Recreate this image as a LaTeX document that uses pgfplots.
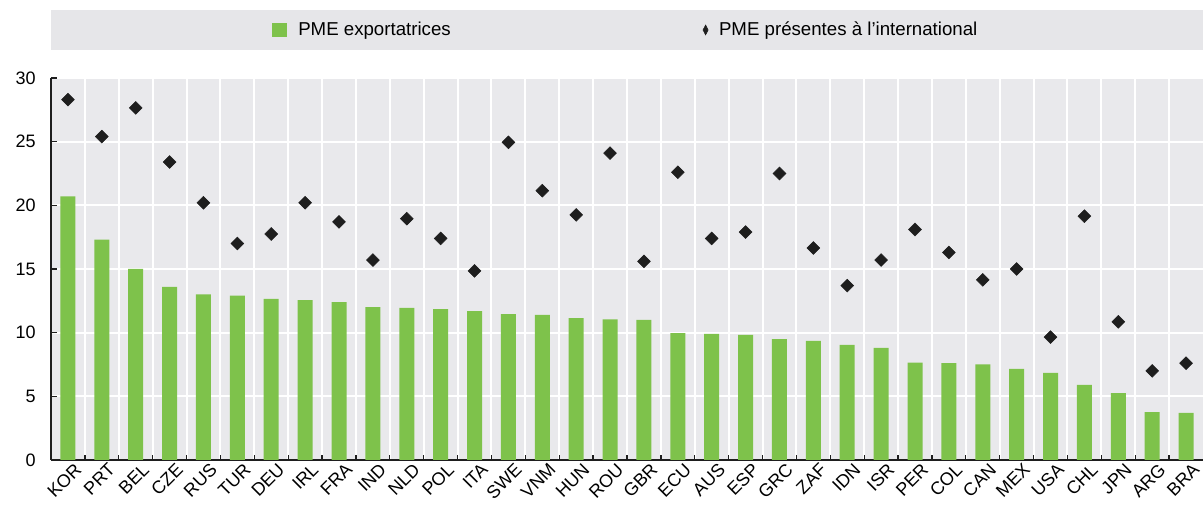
\documentclass[border=0pt]{standalone}
\usepackage{pgfplots}
\pgfplotsset{compat=1.18}
\usepackage{fontspec}
\setmainfont{Liberation Sans}
\definecolor{barg}{HTML}{7EC24B}
\definecolor{bgg}{HTML}{E9E9EC}
\definecolor{lgg}{HTML}{E6E6E9}
\definecolor{dk}{HTML}{1E1E1E}
\begin{document}
\begin{tikzpicture}[x=1pt,y=1pt]
\fill[lgg] (0,307.5) rectangle (864,337.5);
\begin{axis}[
  at={(0,0)}, anchor=south west,
  scale only axis, width=864pt, height=286.5pt,
  xmin=-0.5, xmax=33.5, ymin=0, ymax=30,
  ytick={0,5,...,30},
  xtick={0,...,33},
  xticklabels={KOR,PRT,BEL,CZE,RUS,TUR,DEU,IRL,FRA,IND,NLD,POL,ITA,SWE,VNM,HUN,ROU,GBR,ECU,AUS,ESP,GRC,ZAF,IDN,ISR,PER,COL,CAN,MEX,USA,CHL,JPN,ARG,BRA},
  minor x tick num=1,
  xminorgrids=true, ymajorgrids=true, xmajorgrids=false,
  grid style={white, line width=1.5pt},
  minor grid style={white, line width=1.5pt},
  axis background/.style={fill=bgg},
  axis lines=left, axis line style={-, dk, line width=1.3pt},
  tick align=inside,
  major x tick style={draw=none},
  major tick length=4.5pt, minor tick length=4pt,
  tick style={dk, line width=1pt},
  /pgf/number format/assume math mode=true,
  xticklabel style={rotate=45, anchor=north east, font=\fontsize{13.5}{14}\selectfont, inner sep=1pt, xshift=3pt, yshift=-3pt},
  yticklabel style={font=\fontsize{13.5}{14}\selectfont, xshift=-8pt},
  legend style={at={(0.499,1)}, anchor=center, yshift=36pt, draw=none, fill=none,
    font=\fontsize{14}{16}\selectfont, legend columns=2,
    /tikz/every even column/.append style={column sep=187pt}},
  clip=false,
]
\addplot[ybar, bar width=11.25pt, fill=barg, draw=none,
  legend image code/.code={\fill[barg] (0pt,-5.6pt) rectangle (11.25pt,5.6pt); \path[draw=none,fill=none] (0pt,0pt) -- (18pt,0pt);}]
coordinates {
(0,20.7) (1,17.3) (2,15.0) (3,13.6) (4,13.0) (5,12.9) (6,12.65) (7,12.55) (8,12.4) (9,12.0)
(10,11.95) (11,11.85) (12,11.7) (13,11.45) (14,11.4) (15,11.15) (16,11.05) (17,11.0) (18,9.97) (19,9.9)
(20,9.82) (21,9.5) (22,9.35) (23,9.05) (24,8.8) (25,7.65) (26,7.6) (27,7.5) (28,7.15) (29,6.85)
(30,5.9) (31,5.25) (32,3.75) (33,3.7)
};
\addlegendentry{PME exportatrices}
\addplot[only marks, mark=square*, mark size=3.4pt, mark options={rotate=45, fill=dk, draw=dk},
  legend image code/.code={\fill[dk] (0pt,0pt) -- (1.9pt,3.75pt) -- (3.8pt,0pt) -- (1.9pt,-3.75pt) -- cycle; \path[draw=none,fill=none] (0pt,0pt) -- (10pt,0pt);}]
coordinates {
(0,28.3) (1,25.4) (2,27.65) (3,23.4) (4,20.2) (5,17.0) (6,17.75) (7,20.2) (8,18.7) (9,15.7)
(10,18.95) (11,17.4) (12,14.85) (13,24.95) (14,21.15) (15,19.25) (16,24.1) (17,15.6) (18,22.6) (19,17.4)
(20,17.9) (21,22.5) (22,16.65) (23,13.7) (24,15.7) (25,18.1) (26,16.3) (27,14.15) (28,15.0) (29,9.65)
(30,19.15) (31,10.85) (32,7.0) (33,7.6)
};
\addlegendentry{PME présentes à l'international}
\end{axis}
\pgfresetboundingbox
\useasboundingbox (-38.25,-33.75) rectangle (864,345);
\end{tikzpicture}
\end{document}
